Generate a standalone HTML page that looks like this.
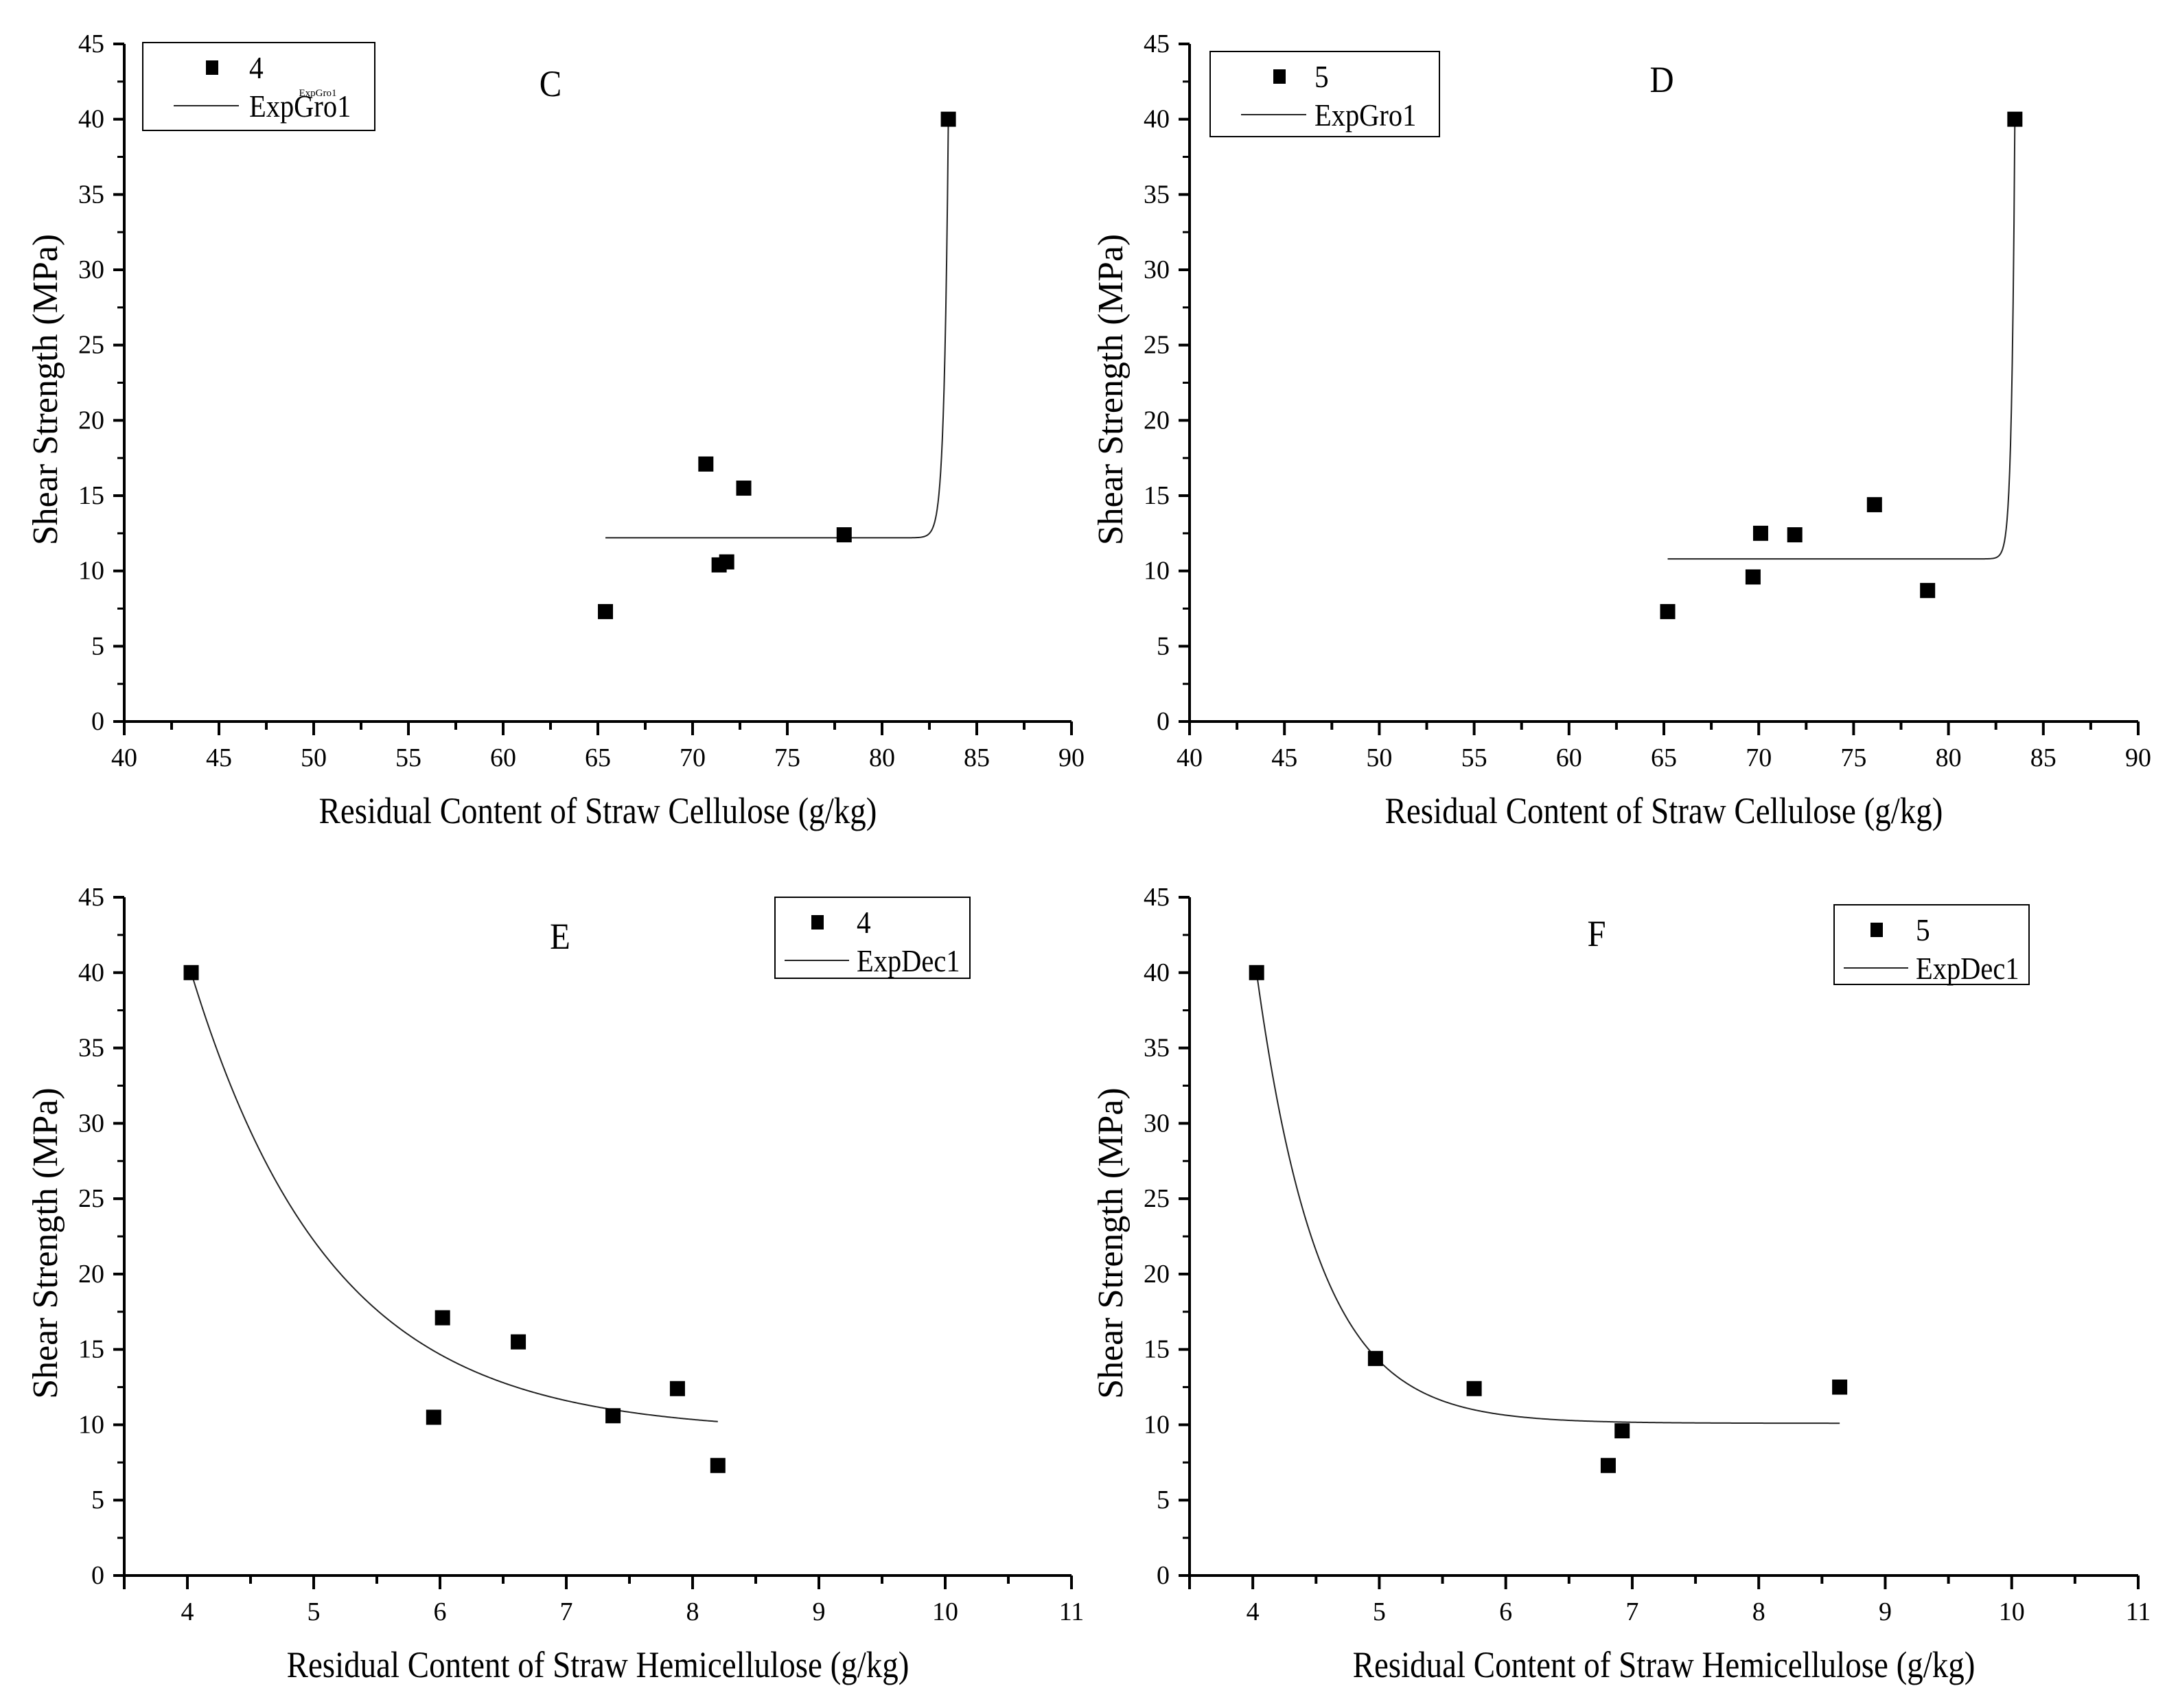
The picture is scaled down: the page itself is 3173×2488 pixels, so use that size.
<!DOCTYPE html>
<html><head><meta charset="utf-8"><style>
html,body{margin:0;padding:0;background:#fff}
svg{display:block}
text{font-family:"Liberation Serif",serif;fill:#000}
</style></head><body>
<svg id="fig" width="3173" height="2488" viewBox="0 0 3173 2488"></svg>
<script>
// ---- data ----
const cX = [65.4, 70.7, 72.7, 71.4, 71.8, 78.0, 83.5];
const cY = [7.3, 17.1, 15.5, 10.4, 10.6, 12.4, 40.0];
const dX = [65.2, 69.7, 70.1, 71.9, 76.1, 78.9, 83.5];
const dY = [7.3, 9.6, 12.5, 12.4, 14.4, 8.7, 40.0];
const eX = [4.03, 5.95, 6.02, 6.62, 7.37, 7.88, 8.20];
const eY = [40.0, 10.5, 17.1, 15.5, 10.6, 12.4, 7.3];
const fX = [4.03, 4.97, 5.75, 6.81, 6.92, 8.64];
const fY = [40.0, 14.4, 12.4, 7.3, 9.6, 12.5];
// fit params: [y0, amplitude, t, xStart, xEnd]
const cFit = [12.2, 27.8, 0.22, 65.4, 83.5];
const dFit = [10.8, 29.2, 0.17, 65.2, 83.5];
const eFit = [9.5, 30.5, 1.11, 4.03, 8.20];
const fFit = [10.1, 29.9, 0.49, 4.03, 8.64];
const cellTicks = [40,45,50,55,60,65,70,75,80,85,90];
const hemiTicks = [4,5,6,7,8,9,10,11];
const yTicks = [0,5,10,15,20,25,30,35,40,45];

const NS = "http://www.w3.org/2000/svg";
const svg = document.getElementById('fig');
function el(tag, attrs, parent){const e=document.createElementNS(NS,tag);for(const k in attrs)e.setAttribute(k,attrs[k]);(parent||svg).appendChild(e);return e;}
function txt(parent,x,y,s,size,anchor,scx){
  const g=el('g',{transform:`translate(${x},${y}) scale(${scx||1},1)`},parent);
  const t=el('text',{x:0,y:0,'font-size':size,'text-anchor':anchor||'middle'},g);
  t.textContent=s;return t;}

function panel(opt){
  const g=el('g',{});
  
  
  const {x0,x1,y0,y1,xmin,xmax}=opt;
  const sx=v=>x0+(v-xmin)/(xmax-xmin)*(x1-x0);
  const sy=v=>y0-(v/45)*(y0-y1);
  const ax=el('path',{d:`M${x0-16},${y0}H${x1}M${x0},${y0+20}V${y1}`,stroke:'#000','stroke-width':4,fill:'none'},g);
  
  
  const xt=opt.xticks;
  for(let i=0;i<xt.length;i++){
    const X=sx(xt[i]);
    el('line',{x1:X,y1:y0,x2:X,y2:y0+20,stroke:'#000','stroke-width':4},g);
    const lab=txt(g,X,y0+65,String(xt[i]),38,'middle');
    
    
    if(i<xt.length-1){const m=sx((xt[i]+xt[i+1])/2);el('line',{x1:m,y1:y0,x2:m,y2:y0+12,stroke:'#000','stroke-width':4},g);}
  }
  if(opt.xpre!==undefined){const m=sx(opt.xpre);el('line',{x1:m,y1:y0,x2:m,y2:y0+12,stroke:'#000','stroke-width':4},g);}
  for(let i=0;i<yTicks.length;i++){
    const Y=sy(yTicks[i]);
    el('line',{x1:x0-16,y1:Y,x2:x0,y2:Y,stroke:'#000','stroke-width':4},g);
    const lab=txt(g,x0-29,Y+12,String(yTicks[i]),38,'end');
    
    
    if(i<yTicks.length-1){const m=sy(yTicks[i]+2.5);el('line',{x1:x0-10,y1:m,x2:x0,y2:m,stroke:'#000','stroke-width':3},g);}
  }
  const xtit=txt(g,(x0+x1)/2,y0+148,opt.xtitle,54,'middle',0.87);
  
  
  const yg=el('g',{transform:`translate(${x0-98},${(y0+y1)/2 + 10}) rotate(-90) scale(1.0,1)`},g);
  const ytit=el('text',{x:0,y:0,'font-size':52,'text-anchor':'middle'},yg);
  ytit.textContent='Shear Strength (MPa)';
  
  
  const pl=txt(g,opt.labx,opt.laby,opt.label,54,'middle',0.9);
  
  
  const [fy0,A,t,xs,xe]=opt.fit;let d='';
  for(let k=0;k<=400;k++){
    const x=xs+(xe-xs)*k/400;
    const y=opt.grow? fy0+A*Math.exp((x-xe)/t) : fy0+A*Math.exp(-(x-xs)/t);
    d+=(k?'L':'M')+sx(x).toFixed(2)+','+sy(y).toFixed(2);
  }
  const fc=el('path',{d,stroke:'#222','stroke-width':2,fill:'none'},g);
  
  
  for(let i=0;i<opt.xs.length;i++){
    const r=el('rect',{x:sx(opt.xs[i])-11,y:sy(opt.ys[i])-11,width:22,height:22,fill:'#000'},g);
    
    
  }
  const [lx,ly,lw,lh,mo,to,l0,l1]=opt.leg;
  const lg=el('g',{},g);
  
  
  el('rect',{x:lx,y:ly,width:lw,height:lh,fill:'#fff',stroke:'#000','stroke-width':2},lg);
  el('rect',{x:lx+mo,y:ly+26,width:18,height:21,fill:'#000'},lg);
  txt(lg,lx+to,ly+52,opt.series,46,'start',0.9);
  el('line',{x1:lx+l0,y1:ly+92,x2:lx+l1,y2:ly+92,stroke:'#222','stroke-width':2},lg);
  txt(lg,lx+to,ly+108,opt.fitname,46,'start',0.88);
  if(opt.sup){txt(lg,lx+to+100,ly+78,'ExpGro1',15,'middle');}
}
panel({name:'panel-c',x0:181,x1:1561,y0:1051,y1:64,xmin:40,xmax:90,xticks:cellTicks,xtitle:'Residual Content of Straw Cellulose (g/kg)',label:'C',labx:802,laby:140,xs:cX,ys:cY,fit:cFit,grow:true,leg:[208,62,338,128,92,155,45,140],series:'4',fitname:'ExpGro1',sup:true});
panel({name:'panel-d',x0:1733,x1:3115,y0:1051,y1:64,xmin:40,xmax:90,xticks:cellTicks,xtitle:'Residual Content of Straw Cellulose (g/kg)',label:'D',labx:2421,laby:134,xs:dX,ys:dY,fit:dFit,grow:true,leg:[1763,75,334,124,92,152,45,140],series:'5',fitname:'ExpGro1'});
panel({name:'panel-e',x0:181,x1:1561,y0:2295,y1:1307,xmin:3.5,xmax:11,xticks:hemiTicks,xpre:3.5,xtitle:'Residual Content of Straw Hemicellulose (g/kg)',label:'E',labx:816,laby:1382,xs:eX,ys:eY,fit:eFit,grow:false,leg:[1129,1307,284,118,53,119,14,108],series:'4',fitname:'ExpDec1'});
panel({name:'panel-f',x0:1733,x1:3115,y0:2295,y1:1307,xmin:3.5,xmax:11,xticks:hemiTicks,xpre:3.5,xtitle:'Residual Content of Straw Hemicellulose (g/kg)',label:'F',labx:2326,laby:1378,xs:fX,ys:fY,fit:fFit,grow:false,leg:[2672,1318,284,116,53,119,14,108],series:'5',fitname:'ExpDec1'});
</script>
</body></html>
